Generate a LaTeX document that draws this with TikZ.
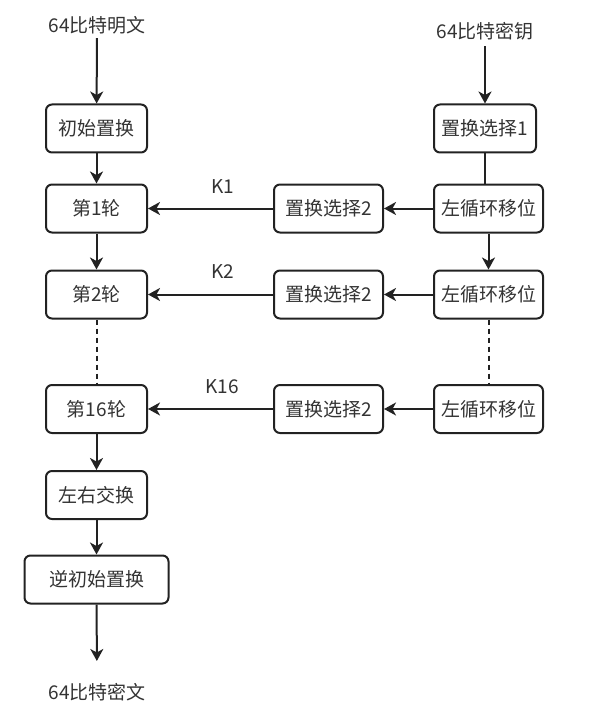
\documentclass[tikz,border=0pt]{standalone}
\usepackage{fontspec}
\setmainfont{Noto Sans CJK SC}
\usetikzlibrary{arrows.meta}
\definecolor{ink}{HTML}{222222}
\definecolor{txt}{HTML}{333333}
\begin{document}
\begin{tikzpicture}[x=1pt,y=-1pt,
  box/.style={draw=ink,line width=2pt,rounded corners=6pt,minimum height=48pt,inner sep=0pt,font=\fontsize{19}{22}\selectfont,text=txt},
  lbl/.style={font=\fontsize{19}{22}\selectfont,text=txt,inner sep=4pt},
  conn/.style={draw=ink,line width=2pt},
  arr/.style={conn,-{Stealth[length=12pt,width=13pt,inset=3.5pt]}},
  dashline/.style={conn,dash pattern=on 5pt off 4pt}]
\useasboundingbox (0,0) rectangle (607,722);
% left column
\node[lbl] (pt) at (97,25) {64比特明文};
\node[box,minimum width=101pt] (ip) at (96.5,128.5) {初始置换};
\node[box,minimum width=101pt] (r1) at (96.5,208.5) {第1轮};
\node[box,minimum width=101pt] (r2) at (96.5,294.5) {第2轮};
\node[box,minimum width=101pt] (r16) at (96.5,409) {第16轮};
\node[box,minimum width=101pt] (lr) at (96.5,495) {左右交换};
\node[box,minimum width=144pt] (fp) at (96.5,579.5) {逆初始置换};
\node[lbl] (ct) at (97,692) {64比特密文};
% right column
\node[lbl,inner sep=6pt] (key) at (485,31) {64比特密钥};
\node[box,minimum width=102pt] (pc1) at (485,128.5) {置换选择1};
\node[box,minimum width=109pt] (ls1) at (488.5,208.5) {左循环移位};
\node[box,minimum width=109pt] (ls2) at (488.5,294.5) {左循环移位};
\node[box,minimum width=109pt] (ls3) at (488.5,409) {左循环移位};
% middle
\node[box,minimum width=109pt] (pa) at (328.5,208.5) {置换选择2};
\node[box,minimum width=109pt] (pb) at (328.5,294.5) {置换选择2};
\node[box,minimum width=109pt] (pc) at (328.5,409) {置换选择2};
% key labels
\node[lbl] (k1) at (223,187) {K1};
\node[lbl] (k2) at (223,272) {K2};
\node[lbl] (k16) at (222,387) {K16};
% connectors left
\draw[arr] (pt) -- (ip);
\draw[arr] (ip) -- (r1);
\draw[arr] (r1) -- (r2);
\draw[dashline] (r2) -- (r16);
\draw[arr] (r16) -- (lr);
\draw[arr] (lr) -- (fp);
\draw[arr,shorten >=18pt] (fp) -- (ct);
% connectors right
\draw[arr] (key) -- (pc1);
\draw[conn] (pc1.south) -- (pc1.south |- ls1.north);
\draw[arr] (ls1) -- (ls2);
\draw[dashline] (ls2) -- (ls3);
% horizontal
\draw[arr] (ls1) -- (pa);
\draw[arr] (ls2) -- (pb);
\draw[arr] (ls3) -- (pc);
\draw[arr] (pa) -- (r1);
\draw[arr] (pb) -- (r2);
\draw[arr] (pc) -- (r16);
\end{tikzpicture}
\end{document}
